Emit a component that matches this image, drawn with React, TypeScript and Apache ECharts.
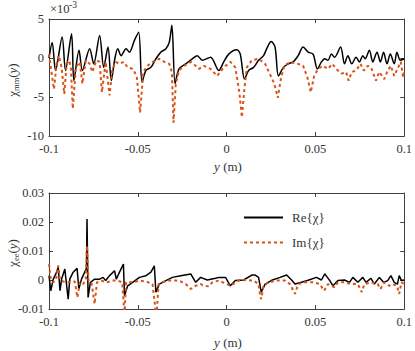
import React, { useEffect, useRef } from "react";
import * as echarts from "echarts";

// x in metres, values of top panel in units of 1e-3
const reTop: [number, number][] = [
  [-0.1, 0], [-0.0982, 2.0], [-0.0963, -1.6], [-0.0926, 2.7], [-0.0907, -1.6], [-0.0873, 3.1],
  [-0.086, -2.9], [-0.0831, 1.0], [-0.0812, -1.6], [-0.0771, 1.2], [-0.0748, -0.75], [-0.0715, 2.9],
  [-0.0692, -1.2], [-0.0668, 1.4], [-0.0649, -2.9], [-0.0631, -0.3], [-0.0613, 1.2], [-0.0594, 0.3],
  [-0.0566, 1.2], [-0.0547, 0.75], [-0.0519, 2.26], [-0.0495, 3.3], [-0.0476, -3.1], [-0.0454, -1.6],
  [-0.0426, -1.2], [-0.0398, -0.1], [-0.037, 0.75], [-0.0342, 1.2], [-0.0323, 2.0], [-0.0308, 4.2],
  [-0.029, -3.3], [-0.0268, -1.4], [-0.023, -0.75], [-0.0193, -0.1], [-0.0165, 0.3], [-0.0137, -0.3],
  [-0.009, 0.1], [-0.0044, -1.6], [-0.0016, -0.5], [0.0012, 0.5], [0.0058, 1.05], [0.0077, 0.5],
  [0.0101, -2.7], [0.0124, -1.6], [0.0152, -1.2], [0.018, -0.3], [0.0208, 0.3], [0.0226, 1.2],
  [0.0251, 2.1], [0.0273, 1.4], [0.0292, -2.3], [0.032, -1.2], [0.0347, -0.75], [0.0375, -0.5],
  [0.0403, 0.3], [0.0431, 1.4], [0.0459, 0.75], [0.0487, 0.5], [0.0511, -1.4], [0.0534, -0.5],
  [0.0553, -0.1], [0.0571, -0.3], [0.059, 0.5], [0.0608, 0.1], [0.0642, 1.4], [0.0664, -0.75],
  [0.0683, 0.3], [0.0705, -0.75], [0.0729, 0.1], [0.0748, -0.5], [0.0767, 0.3], [0.078, -0.1],
  [0.0804, 1.0], [0.0823, -0.5], [0.0847, 0.75], [0.0866, -0.5], [0.0884, 0.75], [0.0903, -0.75],
  [0.0922, 0.5], [0.0944, -0.75], [0.0959, 0.75], [0.0978, -0.3], [0.1, -0.1],
];

const imTop: [number, number][] = [
  [-0.1, 0.5], [-0.099, -1.2], [-0.0972, -4.0], [-0.0957, -0.75], [-0.0944, 0.3], [-0.0929, -1.2],
  [-0.0914, -4.6], [-0.0901, -0.75], [-0.0887, -0.3], [-0.0877, -1.2], [-0.0866, -6.5], [-0.0849, -1.2],
  [-0.0827, -0.5], [-0.0812, -3.3], [-0.0793, -0.3], [-0.0771, -0.75], [-0.0756, -1.8], [-0.0733, -0.3],
  [-0.0715, -0.5], [-0.0702, -4.4], [-0.0681, -0.5], [-0.0659, -4.8], [-0.0644, -1.6], [-0.0625, -0.5],
  [-0.0603, -0.75], [-0.0579, -0.5], [-0.0557, -1.2], [-0.0529, -1.4], [-0.0506, -2.3], [-0.0487, -7.0],
  [-0.0469, -1.8], [-0.0445, -1.0], [-0.0417, -0.5], [-0.0379, -0.1], [-0.0351, -0.5], [-0.0323, -0.75],
  [-0.0308, -1.8], [-0.0299, -8.3], [-0.0286, -3.3], [-0.0268, -1.6], [-0.024, -1.0], [-0.0202, -0.5],
  [-0.0174, -1.0], [-0.0156, -1.4], [-0.0128, -1.0], [-0.009, -1.4], [-0.0053, -2.3], [-0.0016, -1.2],
  [0.0022, -0.5], [0.0049, -1.2], [0.0072, -4.4], [0.0086, -7.6], [0.0101, -3.8], [0.0114, -1.2],
  [0.0142, -0.3], [0.018, -0.1], [0.0217, -0.75], [0.0269, -3.3], [0.0288, -5.1], [0.0307, -2.5],
  [0.0325, -1.0], [0.0357, -0.5], [0.0403, -0.75], [0.0431, -1.0], [0.0455, -2.5], [0.0474, -4.4],
  [0.0493, -2.3], [0.0515, -1.4], [0.0543, -1.0], [0.0571, -1.4], [0.0595, -0.75], [0.0627, -1.6],
  [0.0649, -2.0], [0.0673, -1.8], [0.0687, -2.9], [0.0705, -1.8], [0.0729, -1.6], [0.0754, -0.75],
  [0.0772, -1.6], [0.0795, -1.0], [0.0813, -1.2], [0.0841, -2.9], [0.086, -1.8], [0.0888, -2.7],
  [0.0907, -1.6], [0.0925, -1.0], [0.0944, -2.3], [0.0962, -1.4], [0.0981, -0.5], [0.0994, -2.5],
  [0.1, -1.5],
];

const reBottom: [number, number][] = [
  [-0.1, 0.0015], [-0.099, -0.0037], [-0.0976, 0.0003], [-0.0957, 0.0027], [-0.0948, 0.0044],
  [-0.0938, -0.0037], [-0.0929, 0.0003], [-0.0911, 0.0038], [-0.0892, -0.0066], [-0.0883, 0.0003],
  [-0.0864, 0.0027], [-0.0842, 0.004], [-0.0832, -0.0031], [-0.0817, 0.0003], [-0.0799, 0.0027],
  [-0.0789, 0.004], [-0.0786, 0.021], [-0.078, -0.006], [-0.0767, -0.0008], [-0.0743, 0.0003],
  [-0.0715, 0.0003], [-0.0696, 0.0009], [-0.0681, -0.0002], [-0.0659, 0.0015], [-0.0631, 0.0032],
  [-0.0621, 0.0003], [-0.0603, 0.0027], [-0.0581, 0.0055], [-0.0575, -0.0054], [-0.0557, -0.002],
  [-0.0529, -0.0008], [-0.0491, 0.0009], [-0.0454, 0.0015], [-0.0426, 0.0027], [-0.0407, 0.0049],
  [-0.0398, -0.0042], [-0.0379, -0.0014], [-0.0342, -0.0002], [-0.0305, 0.0009], [-0.0258, 0.0015],
  [-0.0202, 0.0021], [-0.0174, -0.0008], [-0.0146, 0.0009], [-0.0109, 0.0], [-0.0062, 0.0006],
  [-0.0044, 0.0009], [-0.0006, 0.0009], [0.0021, -0.002], [0.0049, -0.0002], [0.0096, 0.0],
  [0.0142, 0.0017], [0.0161, 0.0017], [0.018, 0.0009], [0.0195, -0.0042], [0.0217, -0.0014],
  [0.0254, -0.0001], [0.0301, 0.0009], [0.0338, 0.0017], [0.0366, 0.0], [0.0385, -0.0014],
  [0.0422, -0.0008], [0.0459, -0.0001], [0.0506, 0.0009], [0.0534, 0.0], [0.0553, 0.0021],
  [0.0581, -0.0002], [0.0599, -0.002], [0.0627, -0.0002], [0.0664, 0.0], [0.0692, -0.0008],
  [0.0711, 0.0009], [0.0739, -0.0008], [0.0767, 0.0009], [0.0785, -0.0008], [0.0813, 0.0006],
  [0.0832, -0.0014], [0.086, 0.0009], [0.0884, -0.0008], [0.0907, -0.0002], [0.0925, 0.0015],
  [0.0944, -0.0008], [0.0962, -0.0014], [0.0972, 0.0015], [0.0985, -0.0002], [0.1, 0.0],
];

const imBottom: [number, number][] = [
  [-0.1, 0.0055], [-0.099, 0.0003], [-0.0976, -0.0008], [-0.0961, 0.0], [-0.0948, 0.005],
  [-0.0938, 0.0], [-0.092, -0.0005], [-0.0901, -0.0008], [-0.0855, -0.0005], [-0.084, -0.006],
  [-0.0827, -0.0008], [-0.0808, -0.0014], [-0.0793, 0.0], [-0.0786, 0.0118], [-0.0778, 0.0],
  [-0.0761, -0.0008], [-0.0743, -0.0083], [-0.073, -0.0008], [-0.0705, -0.0002], [-0.0677, -0.0008],
  [-0.064, -0.0002], [-0.0613, -0.0002], [-0.0588, -0.0008], [-0.0575, -0.012], [-0.0566, -0.0008],
  [-0.0529, -0.0008], [-0.0491, -0.0002], [-0.0454, -0.0005], [-0.0417, -0.0014], [-0.0395, -0.013],
  [-0.0383, -0.0014], [-0.0361, -0.0008], [-0.0323, -0.0002], [-0.0286, -0.0002], [-0.0258, -0.0005],
  [-0.023, -0.0014], [-0.0202, -0.0031], [-0.0174, -0.002], [-0.0146, -0.0014], [-0.0128, -0.002],
  [-0.01, -0.0022], [-0.008, -0.0008], [-0.0044, -0.0002], [0.0002, -0.0014], [0.0021, -0.002],
  [0.0068, -0.0002], [0.0114, 0.0], [0.0152, -0.0002], [0.018, -0.0014], [0.0189, -0.0054],
  [0.0195, -0.0066], [0.0208, -0.002], [0.0236, -0.0008], [0.0282, -0.0002], [0.0329, -0.0002],
  [0.0357, -0.0014], [0.0385, -0.0048], [0.0403, -0.0014], [0.0441, -0.0008], [0.0487, -0.0008],
  [0.0525, -0.0014], [0.0549, -0.0037], [0.0571, -0.0014], [0.0608, -0.0025], [0.0627, -0.0008],
  [0.0664, -0.0008], [0.0701, -0.0014], [0.0739, -0.0014], [0.0761, -0.0042], [0.0776, -0.0014],
  [0.0813, -0.0008], [0.0851, -0.0014], [0.0866, -0.0031], [0.0888, -0.0008], [0.0916, -0.002],
  [0.0934, -0.0014], [0.0959, -0.002], [0.0972, -0.0048], [0.0985, -0.0008], [0.1, -0.0014],
];

const seriesNames = ["Re{χ}", "Im{χ}"];
const xTickRange = { min: -0.1, max: 0.1, interval: 0.05 };
const yTopRange = { min: -10, max: 5, interval: 5 };
const yBottomRange = { min: -0.01, max: 0.03, interval: 0.01 };

const FAMILY = "'Liberation Serif', 'Times New Roman', serif";
const AXIS_COLOR = "#404040";
const TEXT_COLOR = "#333333";
const RE_COLOR = "#000000";
const IM_COLOR = "#D95319";

function fmt(v: number) {
  return String(+v.toFixed(4));
}

function makeX(gridIndex: number, position: "top" | "bottom") {
  return {
    gridIndex,
    type: "value",
    position,
    ...xTickRange,
    axisLine: { show: true, onZero: false, lineStyle: { color: AXIS_COLOR, width: 1 } },
    axisTick: { show: true, inside: true, length: 4, lineStyle: { color: AXIS_COLOR } },
    axisLabel: {
      show: position === "bottom",
      margin: 6,
      color: TEXT_COLOR,
      fontFamily: FAMILY,
      fontSize: 12.5,
      formatter: fmt,
    },
    splitLine: { show: false },
  };
}

function makeY(gridIndex: number, position: "left" | "right", range: any) {
  return {
    gridIndex,
    type: "value",
    position,
    ...range,
    axisLine: { show: true, onZero: false, lineStyle: { color: AXIS_COLOR, width: 1 } },
    axisTick: { show: true, inside: true, length: 4, lineStyle: { color: AXIS_COLOR } },
    axisLabel: {
      show: position === "left",
      margin: 5,
      color: TEXT_COLOR,
      fontFamily: FAMILY,
      fontSize: 12.5,
      formatter: fmt,
    },
    splitLine: { show: false },
  };
}

const richName = {
  a: { font: `13px ${FAMILY}`, fontFamily: FAMILY, fontSize: 13, fill: TEXT_COLOR, lineHeight: 17, verticalAlign: "middle" },
  b: { font: `8.5px ${FAMILY}`, fontFamily: FAMILY, fontSize: 8.5, fill: TEXT_COLOR, lineHeight: 17, verticalAlign: "bottom" },
  i: { font: `italic 13px ${FAMILY}`, fontFamily: FAMILY, fontSize: 13, fontStyle: "italic", fill: TEXT_COLOR, lineHeight: 17, verticalAlign: "middle" },
};

export default function App() {
  const ref = useRef<HTMLDivElement>(null);
  useEffect(() => {
    if (!ref.current) return;
    const chart = echarts.init(ref.current, null, { renderer: "svg" });
    chart.setOption({
      animation: false,
      backgroundColor: "#ffffff",
      grid: [
        { left: 49, top: 19, width: 358, height: 117 },
        { left: 49, top: 193, width: 358, height: 116 },
      ],
      xAxis: [makeX(0, "bottom"), makeX(0, "top"), makeX(1, "bottom"), makeX(1, "top")],
      yAxis: [
        makeY(0, "left", yTopRange),
        makeY(0, "right", yTopRange),
        makeY(1, "left", yBottomRange),
        makeY(1, "right", yBottomRange),
      ],
      legend: {
        data: seriesNames,
        orient: "vertical",
        left: 243,
        top: 211,
        padding: 0,
        itemWidth: 39,
        itemHeight: 14,
        itemGap: 12,
        itemStyle: { opacity: 0, borderWidth: 0 },
        textStyle: { fontFamily: FAMILY, fontSize: 13, color: TEXT_COLOR, padding: [0, 0, 0, 4] },
      },
      series: [
        {
          name: seriesNames[0], type: "line", xAxisIndex: 0, yAxisIndex: 0, data: reTop,
          symbol: "none", smooth: 0.3, lineStyle: { color: RE_COLOR, width: 1.5 }, itemStyle: { color: RE_COLOR },
        },
        {
          name: seriesNames[1], type: "line", xAxisIndex: 0, yAxisIndex: 0, data: imTop,
          symbol: "none", lineStyle: { color: IM_COLOR, width: 2, type: [3, 3] }, itemStyle: { color: IM_COLOR },
        },
        {
          name: seriesNames[0], type: "line", xAxisIndex: 2, yAxisIndex: 2, data: reBottom,
          symbol: "none", lineStyle: { color: RE_COLOR, width: 1.5 }, itemStyle: { color: RE_COLOR },
        },
        {
          name: seriesNames[1], type: "line", xAxisIndex: 2, yAxisIndex: 2, data: imBottom,
          symbol: "none", lineStyle: { color: IM_COLOR, width: 2, type: [3, 3] }, itemStyle: { color: IM_COLOR },
        },
      ],
      graphic: [
        {
          type: "text", x: 50, y: 15,
          style: { text: "×10", font: `12.5px ${FAMILY}`, fill: TEXT_COLOR, align: "left", verticalAlign: "bottom" },
        },
        {
          type: "text", x: 69, y: 10,
          style: { text: "-3", font: `9.5px ${FAMILY}`, fill: TEXT_COLOR, align: "left", verticalAlign: "bottom" },
        },
        {
          type: "text", x: 12, y: 80, rotation: Math.PI / 2,
          style: { text: "{a|χ}{b|mm}{a|(}{i|y}{a|)}", font: `13px ${FAMILY}`, rich: richName, align: "center", verticalAlign: "middle" },
        },
        {
          type: "text", x: 12, y: 253, rotation: Math.PI / 2,
          style: { text: "{a|χ}{b|ee}{a|(}{i|y}{a|)}", font: `13px ${FAMILY}`, rich: richName, align: "center", verticalAlign: "middle" },
        },
        {
          type: "text", x: 228, y: 166,
          style: { text: "{i|y}{a| (m)}", font: `13px ${FAMILY}`, rich: richName, align: "center", verticalAlign: "middle" },
        },
        {
          type: "text", x: 228, y: 342,
          style: { text: "{i|y}{a| (m)}", font: `13px ${FAMILY}`, rich: richName, align: "center", verticalAlign: "middle" },
        },
      ],
    });
    return () => chart.dispose();
  }, []);
  return (
    <div
      ref={ref}
      style={{ position: "fixed", left: 0, top: 0, width: 415, height: 351, background: "#fff" }}
    />
  );
}
